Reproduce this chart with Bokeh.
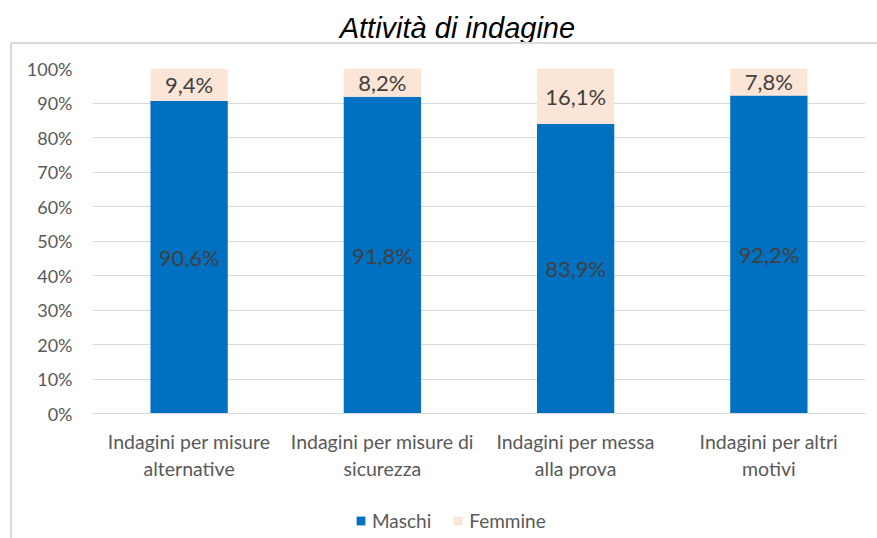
from bokeh.plotting import figure
from bokeh.layouts import column
from bokeh.models import (ColumnDataSource, Range1d, FixedTicker, Legend, LegendItem,
                          NumeralTickFormatter, InlineStyleSheet, Label)
from bokeh.core.properties import value
from bokeh.embed import file_html
from bokeh.resources import INLINE

title_text = "Attività di indagine"
categories = ["Indagini per misure\nalternative", "Indagini per misure di\nsicurezza",
              "Indagini per messa\nalla prova", "Indagini per altri\nmotivi"]
maschi = [90.6, 91.8, 83.9, 92.2]
femmine = [9.4, 8.2, 16.1, 7.8]
y_ticks = [0, 10, 20, 30, 40, 50, 60, 70, 80, 90, 100]
series_names = ["Maschi", "Femmine"]

BLUE = "#0070C0"
PEACH = "#FBE5D6"
FONT = "Lato"
W = 877

x = list(range(len(categories)))
m_frac = [v / 100 for v in maschi]
f_frac = [v / 100 for v in femmine]
src = ColumnDataSource(dict(
    x=x, m=m_frac, f=f_frac,
    f_top=[a + b for a, b in zip(m_frac, f_frac)],
    m_mid=[a / 2 for a in m_frac],
    f_mid=[a + b / 2 for a, b in zip(m_frac, f_frac)],
    m_lab=[("%.1f%%" % v).replace(".", ",") for v in maschi],
    f_lab=[("%.1f%%" % v).replace(".", ",") for v in femmine],
))

# ---- title strip (pixel-based ranges) ----
TH = 43
t = figure(width=W, height=TH, output_backend="svg", toolbar_location=None,
           x_range=Range1d(0, W), y_range=Range1d(0, TH),
           min_border=0, min_border_left=0, min_border_right=0, min_border_top=0,
           min_border_bottom=0)
t.axis.visible = False
t.grid.visible = False
t.outline_line_color = None
t.background_fill_color = None
t.border_fill_color = None
t.add_layout(Label(x=414, y=TH - 27, text=title_text, text_align="center",
                   text_baseline="middle", text_font="Liberation Sans",
                   text_font_style="italic", text_font_size="29px", text_color="#000000"))

# ---- main chart ----
p = figure(width=W, height=445, output_backend="svg", toolbar_location=None,
           x_range=Range1d(-0.5, len(categories) - 0.5), y_range=Range1d(0, 1.0),
           min_border_left=92, min_border_right=12, min_border_top=25, min_border_bottom=75)
p.outline_line_color = None
p.background_fill_color = None
p.border_fill_color = None

p.vbar(x="x", bottom=0, top="m", width=0.4, source=src, fill_color=BLUE, line_color=None)
p.vbar(x="x", bottom="m", top="f_top", width=0.4, source=src, fill_color=PEACH, line_color=None)

p.text(x="x", y="m_mid", text="m_lab", source=src, text_align="center", text_baseline="middle",
       text_font=value(FONT), text_font_size="22px", text_color="#404040")
p.text(x="x", y="f_mid", text="f_lab", source=src, text_align="center", text_baseline="middle",
       text_font=value(FONT), text_font_size="22px", text_color="#404040")

p.yaxis.ticker = FixedTicker(ticks=[v / 100 for v in y_ticks])
p.yaxis.formatter = NumeralTickFormatter(format="0%")
p.yaxis.axis_line_color = None
p.yaxis.major_tick_line_color = None
p.yaxis.minor_tick_line_color = None
p.yaxis.major_label_text_font = FONT
p.yaxis.major_label_text_font_size = "18px"
p.yaxis.major_label_text_color = "#595959"
p.yaxis.major_label_standoff = 14

p.xaxis.ticker = FixedTicker(ticks=x)
p.xaxis.major_label_overrides = {i: c for i, c in enumerate(categories)}
p.xaxis.axis_line_color = "#D9D9D9"
p.xaxis.axis_line_width = 1
p.xaxis.major_tick_line_color = None
p.xaxis.minor_tick_line_color = None
p.xaxis.major_label_text_font = FONT
p.xaxis.major_label_text_font_size = "19.5px"
p.xaxis.major_label_text_color = "#595959"
p.xaxis.major_label_standoff = 10

p.xgrid.grid_line_color = None
p.ygrid.grid_line_color = "#D9D9D9"
p.ygrid.grid_line_width = 1

# ---- legend strip (same data, bars kept outside its visible range) ----
q = figure(width=W, height=50, output_backend="svg", toolbar_location=None,
           x_range=Range1d(100, 101), y_range=Range1d(100, 101),
           min_border=0, min_border_left=0, min_border_right=0, min_border_top=0,
           min_border_bottom=0)
q.axis.visible = False
q.grid.visible = False
q.outline_line_color = None
q.background_fill_color = None
q.border_fill_color = None
lm = q.vbar(x="x", bottom=0, top="m", width=0.4, source=src, fill_color=BLUE, line_color=None)
lf = q.vbar(x="x", bottom="m", top="f_top", width=0.4, source=src, fill_color=PEACH, line_color=None)
legend = Legend(items=[LegendItem(label=series_names[0], renderers=[lm]),
                       LegendItem(label=series_names[1], renderers=[lf])],
                orientation="horizontal", location=(263, 6), padding=0, margin=0,
                label_text_font=FONT, label_text_font_size="19px", label_text_color="#595959",
                glyph_width=11, glyph_height=11, label_standoff=6, spacing=21,
                border_line_color=None, background_fill_alpha=0)
q.add_layout(legend)

layout = column(t, p, q, spacing=0, stylesheets=[InlineStyleSheet(css=""":host { position: relative; background: white; }
:host::after { content: ""; position: absolute; left: 10px; top: 42px; width: 900px; height: 600px;
 border: 2px solid #D9D9D9; box-sizing: border-box; pointer-events: none; }""")])

open("out.html", "w").write(file_html(layout, INLINE))
